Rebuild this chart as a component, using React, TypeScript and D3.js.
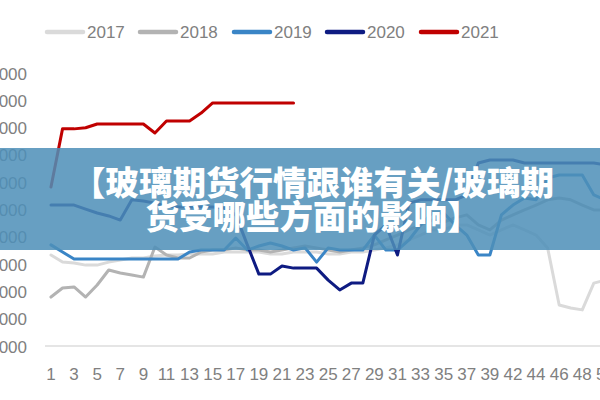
import React from "react";
import * as d3 from "d3";

const weeks: number[] = [
  1, 2, 3, 4, 5, 6, 7, 8, 9, 10, 11, 12, 13, 14, 15, 16, 17, 18, 19, 20,
  21, 22, 23, 24, 25, 26, 27, 28, 29, 30, 31, 32, 33, 34, 35, 36, 37, 38, 39,
  41, 42, 43, 44, 45, 46, 47, 48, 49, 50, 51, 52, 53,
];

const yTicks: number[] = [1000, 2000, 3000, 4000, 5000, 6000, 7000, 8000, 9000, 10000, 11000];

const s2017: number[] = [4370,4110,4080,4000,4000,4110,4190,4260,4260,4330,4370,4370,4410,4410,4410,4480,4480,4480,4480,4410,4410,4480,4480,4480,4410,4410,4480,4480,4550,4630,4740,4920,5100,5290,5290,5470,5470,5290,5100,5290,5470,5290,5100,4630,2540,2430,2360,3340,3450,3450,3450,3450];
const s2018: number[] = [2830,3160,3200,2830,3270,3820,3710,3640,3560,4660,4370,4260,4260,4480,4550,4550,4630,4550,4550,4480,4550,4630,4700,4630,4550,4480,4550,4630,4740,4920,5100,5290,5470,5650,5580,5730,5840,5470,5290,5650,5840,6020,6200,6390,6460,6390,6200,6020,6020,6020,6020,6020];
const s2019: number[] = [4740,4480,4220,4220,4220,4220,4220,4220,4220,4220,4220,4220,4480,4550,4550,4550,4990,4550,4700,4810,4700,4550,4630,4110,4630,4550,4550,4550,5100,4550,4550,4920,5470,5910,5910,5470,5100,4370,4370,5840,6200,6460,6390,7190,7300,7300,7300,6570,6390,6390,6390,6390];
const s2020: number[] = [6200,6200,6200,6050,5910,5800,5650,6390,6350,6270,6160,6130,6130,6130,6130,6090,5840,4740,3670,3670,3970,3890,3890,3890,3450,3090,3340,3340,5100,5470,4370,6270,6390,6390,6390,6390,6570,7740,7850,7850,7850,7740,7740,7740,7740,7740,7740,7740,7670,7670,7670,7670];
const s2021: number[] = [6860,8990,8990,9030,9170,9170,9170,9170,9170,8840,9280,9280,9280,9570,9940,9940,9940,9940,9940,9940,9940,9940];

const seriesNames: string[] = ["2017", "2018", "2019", "2020", "2021"];
const seriesData: number[][] = [s2017, s2018, s2019, s2020, s2021];
const seriesColors: string[] = ["#dadada", "#b3b3b3", "#3a85c6", "#0e1b82", "#c00000"];

const titleLines: string[] = ["【玻璃期货行情跟谁有关/玻璃期", "货受哪些方面的影响】"];

export default function App() {
  const W = 600;
  const H = 400;
  const x = d3.scalePoint<number>().domain(weeks).range([45.2, 645.8]).padding(0.5);
  const y = d3.scaleLinear().domain([1000, 11000]).range([347, 74]);

  const line = d3
    .line<number>()
    .x((_, i) => x(weeks[i]) as number)
    .y((d) => y(d));

  const tickFont = "'Liberation Sans Narrow', 'Arial Narrow', 'Liberation Sans', Arial, sans-serif";
  const legendX = [47, 140, 234, 327, 421];

  return (
    <svg
      width={W}
      height={H}
      style={{ position: "absolute", left: 0, top: 0, background: "#fff" }}
    >
      <rect x={0} y={0} width={W} height={H} fill="#fff" />
      {/* legend */}
      {seriesNames.map((n, i) => (
        <g key={n}>
          <line
            x1={legendX[i]}
            x2={legendX[i] + 36}
            y1={32}
            y2={32}
            stroke={seriesColors[i]}
            strokeWidth={4.5}
            strokeLinecap="round"
          />
          <text
            x={legendX[i] + 40}
            y={37.5}
            fontFamily={tickFont}
            fontSize={17}
            fill="#808080"
          >
            {n}
          </text>
        </g>
      ))}
      {/* y labels */}
      {yTicks.map((t) => (
        <text
          key={t}
          x={27}
          y={y(t) + 5.5}
          textAnchor="end"
          fontFamily={tickFont}
          fontSize={17}
          fill="#808080"
        >
          {t}
        </text>
      ))}
      {/* axis line */}
      <line x1={45} x2={W} y1={346} y2={346} stroke="#dcdcdc" strokeWidth={1.5} />
      {/* x labels */}
      {weeks.map((w, i) =>
        i % 2 === 0 ? (
          <text
            key={w}
            x={x(w) as number}
            y={380}
            textAnchor="middle"
            fontFamily={tickFont}
            fontSize={17}
            fill="#808080"
          >
            {w}
          </text>
        ) : null
      )}
      {/* series */}
      {seriesData.map((s, i) => (
        <path
          key={seriesNames[i]}
          d={line(s) || ""}
          fill="none"
          stroke={seriesColors[i]}
          strokeWidth={3}
          strokeLinejoin="round"
          strokeLinecap="round"
        />
      ))}
      {/* banner overlay */}
      <rect x={0} y={148} width={W} height={102} fill="rgb(78,143,184)" opacity={0.86} />
      {titleLines.map((t, i) => (
        <text
          key={i}
          x={313}
          y={195 + i * 34}
          textAnchor="middle"
          fontFamily="'Noto Sans CJK SC', sans-serif"
          fontWeight={900}
          fontSize={33.5}
          fill="#fff"
        >
          {t}
        </text>
      ))}
    </svg>
  );
}
